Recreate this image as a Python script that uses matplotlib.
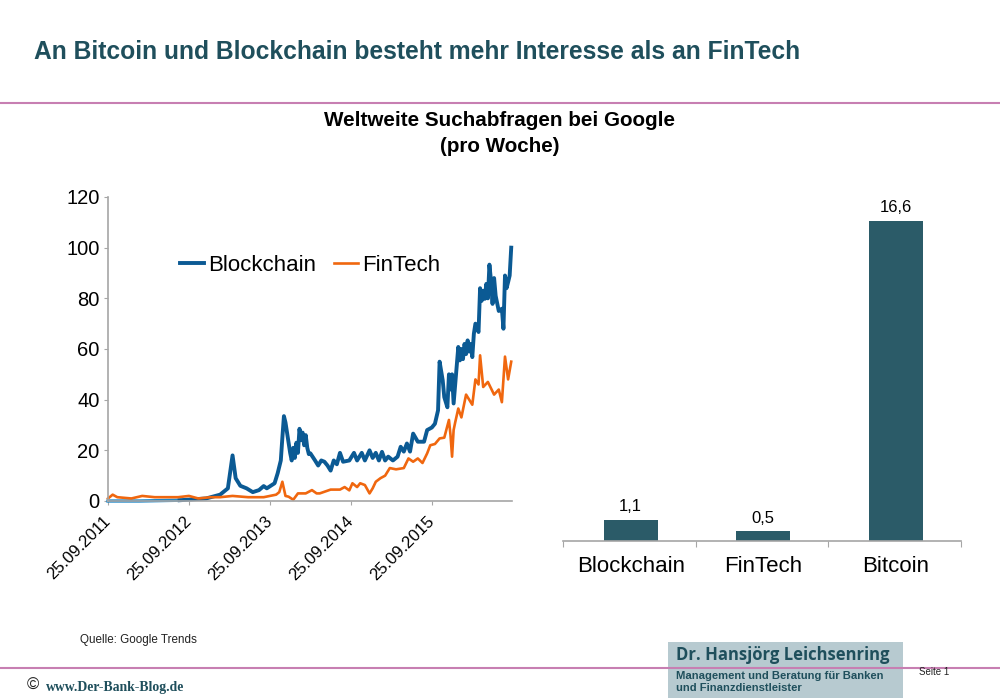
import matplotlib
matplotlib.use('Agg')
import matplotlib.pyplot as plt

plt.rcParams['font.family'] = ['Liberation Sans', 'DejaVu Sans']

# weeks since 25.09.2011
early_weeks = [0, 20, 46]
early_vals = [0, 0, 0.3]
chain_weeks = [46, 63, 72, 77, 80, 82, 85, 89, 93, 97, 100, 102, 107, 109, 111, 112, 113, 114, 115, 116,
               117, 118, 119, 120, 121, 122, 123, 124, 125, 126, 127, 128, 129, 130, 133, 135, 137, 139,
               141, 143, 145, 147, 149, 151, 155, 158, 160, 163, 165, 168, 170, 172, 174, 176, 178, 180,
               183, 186, 188, 190, 192, 194, 196, 199, 203, 205, 208, 210, 212, 213, 215, 216, 218, 219,
               220, 221, 222, 225, 226, 227, 228, 229, 230, 231, 232, 233, 234, 235, 236, 238, 239, 240,
               241, 242, 243, 244, 245, 246, 247, 248, 249, 251, 253, 254, 255, 256, 257, 258, 259]
chain_vals = [0.3, 1, 2.5, 5, 18, 9, 6, 5, 3.5, 4.3, 5.9, 5, 7, 11, 16, 25, 33.5, 31, 27, 23,
              19, 16, 21, 17, 23, 19, 28.5, 24, 27, 22, 26, 21, 18.5, 18.8, 16, 14, 16, 15.5,
              14, 12, 16, 14.5, 19, 15.5, 16, 19, 16, 19, 16, 20, 17, 19, 16, 19.4, 16, 17.5,
              16, 17.5, 21.4, 19.5, 22.7, 19.5, 26.6, 23.4, 23.4, 28, 29, 30.5, 35.8, 55,
              47.6, 41, 37, 50, 44, 50, 38.5, 60.8, 55.5, 60, 56, 62, 58, 63.4, 59, 62, 56.8, 66, 70, 66.7,
              84, 79, 83, 79.8, 85.7, 80, 93.3, 87, 77.8, 88, 81, 75, 75.9, 68, 89, 84, 86.4, 89, 100]
fin_weeks = [0, 3, 6, 15, 22, 30, 45, 52, 58, 66, 72, 80, 90, 100, 108, 110, 112, 114, 116, 119, 122,
             127, 131, 134, 136, 143, 149, 152, 155, 157, 160, 162, 165, 168, 170, 172, 175, 178, 181,
             185, 190, 193, 196, 199, 202, 205, 207, 210, 213, 216, 219, 220, 221, 222, 223, 225, 227, 230, 234, 236,
             238, 239, 241, 244, 248, 251, 253, 255, 257, 259]
fin_vals = [1, 2.5, 1.5, 1, 2, 1.5, 1.5, 2, 1, 1.5, 1.5, 2, 1.5, 1.5, 2.5, 3.5, 7.6, 2, 1.7, 0.5, 3,
            3, 4.3, 3, 3, 4.5, 4.5, 5.5, 4.2, 7, 5.5, 7, 6.3, 3, 5, 7.6, 9, 10, 13,
            12.5, 13, 16.8, 15.5, 16.8, 15, 18.8, 22, 22.5, 24.7, 25, 32, 26, 17.5, 28, 31, 36.5, 33, 42, 38, 48,
            46, 57.5, 45, 47, 42, 44, 39, 57, 48, 55]

year_ticks = [0, 52, 104, 156, 208]
year_labels = ['25.09.2011', '25.09.2012', '25.09.2013', '25.09.2014', '25.09.2015']

bar_names = ['Blockchain', 'FinTech', 'Bitcoin']
bar_vals = [1.1, 0.5, 16.6]
bar_labels = ['1,1', '0,5', '16,6']

teal = '#1f4f5c'
bar_color = '#2b5b68'
pink = '#c77fb2'
W, H = 1000.0, 698.0

def box(x0, y_top, x1, y_bottom):
    return [x0 / W, 1 - y_bottom / H, (x1 - x0) / W, (y_bottom - y_top) / H]

fig = plt.figure(figsize=(10, 6.98), dpi=100)

# page furniture
bg = fig.add_axes([0, 0, 1, 1])
bg.set_xlim(0, W)
bg.set_ylim(H, 0)
bg.axis('off')
bg.add_patch(plt.Rectangle((668, 642), 235, 56, color='#b7cad0', lw=0))
bg.plot([0, W], [102.5, 102.5], color=pink, lw=1.5)
bg.plot([0, W], [667.5, 667.5], color=pink, lw=1.5)
bg.text(34, 52, 'An Bitcoin und Blockchain besteht mehr Interesse als an FinTech', color=teal,
        fontsize=17.7, fontweight='bold', va='center')
bg.text(500, 120, 'Weltweite Suchabfragen bei Google', fontsize=14.9, fontweight='bold',
        ha='center', va='center', color='black')
bg.text(500, 146, '(pro Woche)', fontsize=14.9, fontweight='bold', ha='center', va='center', color='black')
bg.text(80, 640, 'Quelle: Google Trends', fontsize=8.4, va='center', color='#222222')
bg.text(919, 672, 'Seite 1', fontsize=7, va='center', color='#222222')
bg.text(27, 685, '©', fontsize=12, va='center', color='#222222')
bg.text(46, 687, 'www.Der-Bank-Blog.de', fontsize=9.9, fontweight='bold', va='center', color=teal,
        family=['Liberation Serif', 'DejaVu Serif'])
bg.text(676, 655, 'Dr. Hansjörg Leichsenring', fontsize=12, fontweight='bold', va='center', color=teal,
        family=['Open Sans', 'DejaVu Sans'])
bg.text(676, 682, 'Management und Beratung für Banken\nund Finanzdienstleister', fontsize=8.1,
        fontweight='bold', va='center', color=teal, linespacing=1.25)

# line chart
ax = fig.add_axes(box(108, 197, 512, 501))
ax.patch.set_alpha(0)
ax.plot(early_weeks, early_vals, color='#1b86c8', lw=2.4, clip_on=False)
ax.plot(chain_weeks, chain_vals, color='#0b5a94', lw=2.8, label='Blockchain', clip_on=False)
ax.plot(fin_weeks, fin_vals, color='#f0670f', lw=1.9, label='FinTech', clip_on=False)
ax.set_xlim(0, 259.5)
ax.set_ylim(0, 120)
ax.set_yticks(range(0, 121, 20))
ax.set_xticks(year_ticks)
ax.set_xticklabels(year_labels, rotation=45, ha='right', va='center', rotation_mode='anchor')
ax.tick_params(axis='y', labelsize=14.5, color='#a6a6a6', length=3, pad=3)
ax.tick_params(axis='x', labelsize=12, color='#a6a6a6', length=3, pad=10)
for side in ['top', 'right']:
    ax.spines[side].set_visible(False)
for side in ['left', 'bottom']:
    ax.spines[side].set_color('#a6a6a6')
    ax.spines[side].set_linewidth(1.2)
ax.legend(ncol=2, frameon=False, fontsize=16, loc='center', bbox_to_anchor=(0.5, 0.775),
          handlelength=1.08, handletextpad=0.2, columnspacing=0.8)

# bar chart
ax2 = fig.add_axes(box(563, 197, 961, 541))
ax2.patch.set_alpha(0)
xs = range(len(bar_names))
ax2.bar(xs, bar_vals, width=0.405, color=bar_color)
for i in xs:
    ax2.annotate(bar_labels[i], (i, bar_vals[i]), xytext=(0, 4), textcoords='offset points',
                 ha='center', va='bottom', fontsize=12, color='black')
ax2.set_xlim(-0.51, 2.49)
ax2.set_ylim(0, 344 / 19.3)
ax2.set_yticks([])
ax2.set_xticks([-0.51, 0.49, 1.49, 2.49])
ax2.set_xticklabels([])
ax2.set_xticks(list(xs), minor=True)
ax2.set_xticklabels(bar_names, minor=True)
ax2.tick_params(axis='x', which='major', color='#a6a6a6', length=4)
ax2.tick_params(axis='x', which='minor', length=0, labelsize=16, pad=11)
for side in ['top', 'right', 'left']:
    ax2.spines[side].set_visible(False)
ax2.spines['bottom'].set_color('#a6a6a6')
ax2.spines['bottom'].set_linewidth(1.2)

fig.savefig('out.png', dpi=100)
